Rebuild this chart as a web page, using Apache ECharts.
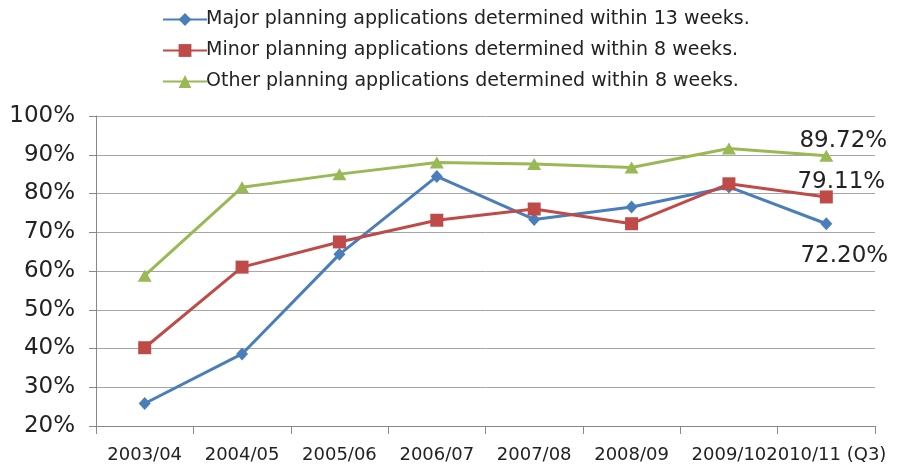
<!DOCTYPE html>
<html>
<head>
<meta charset="utf-8">
<script src="https://cdn.jsdelivr.net/npm/echarts@6/dist/echarts.min.js"></script>
<style>html,body{margin:0;padding:0;background:#fff}#c{width:899px;height:470px}</style>
</head>
<body>
<div id="c"></div>
<script>
const categories = ['2003/04','2004/05','2005/06','2006/07','2007/08','2008/09','2009/10','2010/11 (Q3)'];
const seriesNames = [
  'Major planning applications determined within 13 weeks.',
  'Minor planning applications determined within 8 weeks.',
  'Other planning applications determined within 8 weeks.'
];
const majorValues = [25.8, 38.6, 64.3, 84.4, 73.3, 76.5, 81.7, 72.20];
const minorValues = [40.2, 61.0, 67.5, 73.1, 76.0, 72.2, 82.5, 79.11];
const otherValues = [58.8, 81.6, 85.0, 88.0, 87.6, 86.7, 91.6, 89.72];
const yTicks = {min: 20, max: 100, interval: 10};

const FONT = 'DejaVu Sans';
const colors = ['#4a7ebb', '#be4b48', '#98b954'];
const lastLabelOffsets = [[18, 32], [15, -15], [17, -15]];

function withLastLabel(values, idx) {
  return values.map((v, i) => {
    if (i !== values.length - 1) return v;
    return {
      value: v,
      label: {
        show: true, position: 'inside', offset: lastLabelOffsets[idx],
        formatter: p => p.value.toFixed(2) + '%',
        fontFamily: FONT, fontSize: 23, color: '#222'
      }
    };
  });
}

const symbols = ['diamond', 'rect', 'triangle'];
const symbolSizes = [[12, 13], 13, [14, 12]];
const allValues = [majorValues, minorValues, otherValues];

const chart = echarts.init(document.getElementById('c'), null, {renderer: 'canvas'});
chart.setOption({
  animation: false,
  color: colors,
  legend: {
    orient: 'vertical', left: 157, top: 5, itemGap: 12,
    itemWidth: 44, itemHeight: 16,
    textStyle: {fontFamily: FONT, fontSize: 19, color: '#222', padding: [0,0,0,-6]},
    data: seriesNames
  },
  grid: {left: 96, right: 24, top: 116, bottom: 44, containLabel: false},
  xAxis: {
    type: 'category', data: categories, boundaryGap: true,
    axisLine: {lineStyle: {color: '#888', width: 1}},
    axisTick: {show: true, length: 8, lineStyle: {color: '#888'}},
    axisLabel: {interval: 0, fontFamily: FONT, fontSize: 18, color: '#222', margin: 20}
  },
  yAxis: {
    type: 'value', min: yTicks.min, max: yTicks.max, interval: yTicks.interval,
    axisLine: {show: true, lineStyle: {color: '#888'}},
    axisTick: {show: true, length: 7, lineStyle: {color: '#888'}},
    splitLine: {lineStyle: {color: '#a6a6a6', width: 1}},
    axisLabel: {formatter: '{value}%', fontFamily: FONT, fontSize: 23, color: '#222', margin: 21}
  },
  series: allValues.map((vals, i) => ({
    name: seriesNames[i], type: 'line', data: withLastLabel(vals, i),
    symbol: symbols[i], symbolSize: symbolSizes[i], showAllSymbol: true,
    lineStyle: {width: 3, color: colors[i]},
    itemStyle: {color: colors[i]}
  }))
});
</script>
</body>
</html>
